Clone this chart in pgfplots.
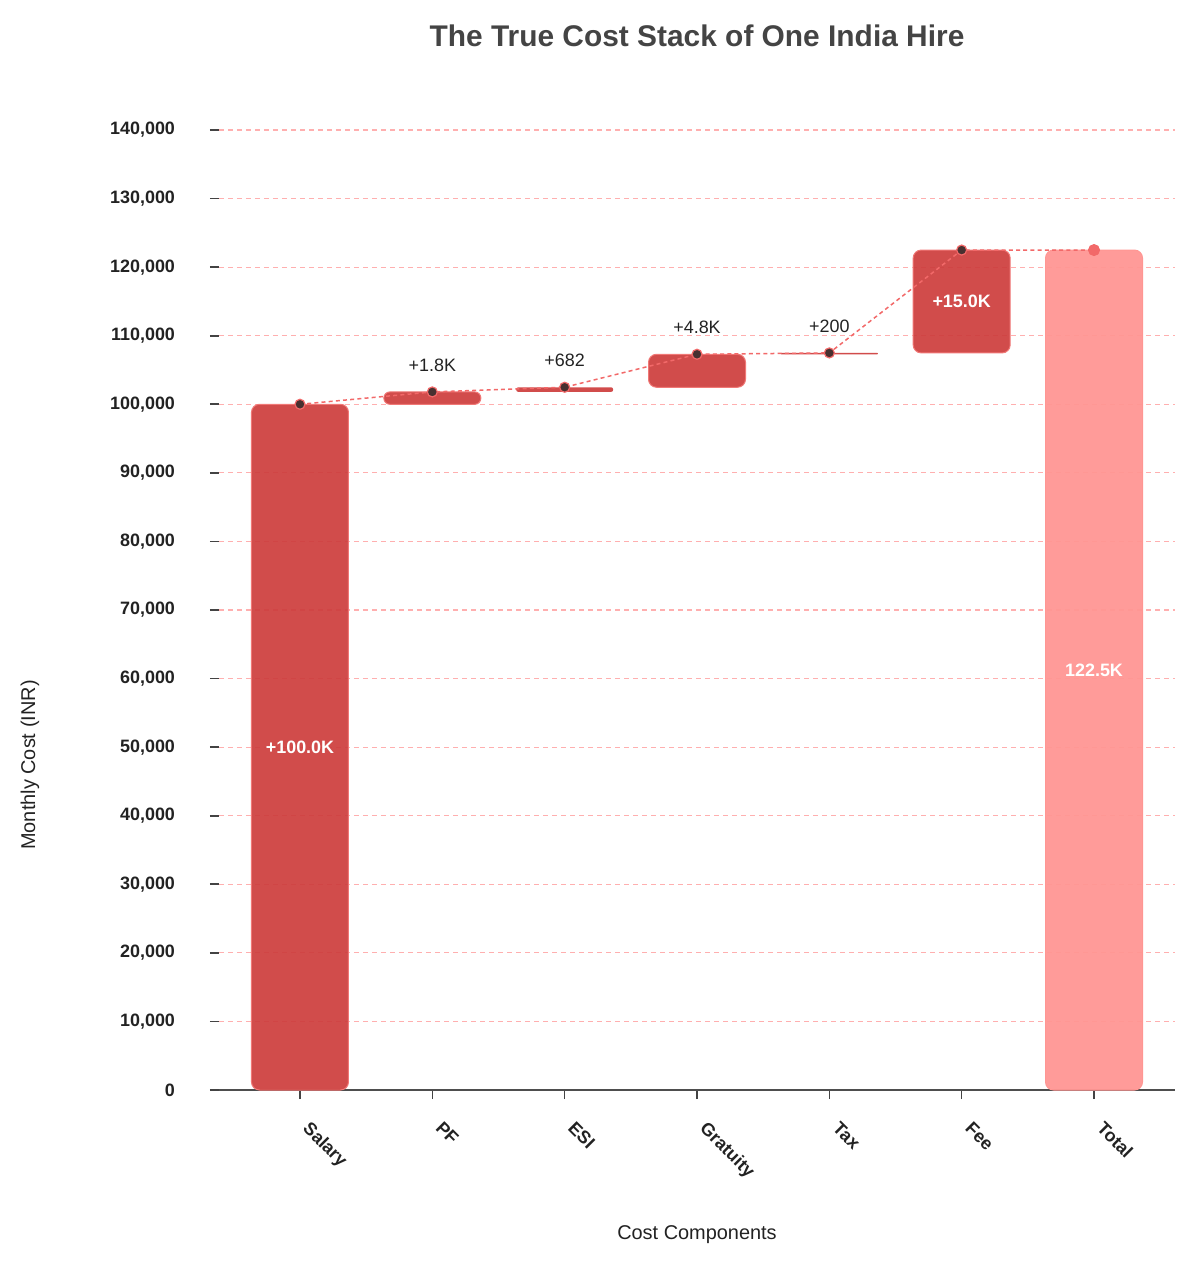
\documentclass[border=0pt]{standalone}
\usepackage{pgfplots}
\pgfplotsset{compat=1.18}
\usepackage{fontspec}
\setmainfont{Liberation Sans}

\definecolor{barred}{RGB}{205,62,61}
\definecolor{baredge}{RGB}{240,120,118}
\definecolor{totalred}{RGB}{255,150,147}
\definecolor{gridred}{RGB}{255,175,175}
\definecolor{linered}{RGB}{242,105,105}
\definecolor{dotdark}{RGB}{72,48,48}
\definecolor{txt}{RGB}{34,34,34}
\definecolor{titlegray}{RGB}{68,68,68}

\pgfplotsset{
  stepbar/.style={fill=barred, fill opacity=0.93, draw=baredge, line width=0.5bp},
}

\begin{document}
\begin{tikzpicture}
\useasboundingbox (-109.5bp,-88.5bp) rectangle (490.5bp,545bp);
\begin{axis}[
    scale only axis,
    width=478bp, height=504bp,
    xmin=-0.612, xmax=6.612,
    ymin=0, ymax=147000,
    separate axis lines,
    axis x line*=bottom,
    axis y line*=left,
    x axis line style={draw=txt!80, line width=1bp},
    y axis line style={draw=none},
    xtick={0,1,2,3,4,5,6},
    xticklabels={Salary,PF,ESI,Gratuity,Tax,Fee,Total},
    ytick={0,10000,20000,30000,40000,50000,60000,70000,80000,90000,100000,110000,120000,130000,140000},
    yticklabels={0,{10,000},{20,000},{30,000},{40,000},{50,000},{60,000},{70,000},{80,000},{90,000},{100,000},{110,000},{120,000},{130,000},{140,000}},
    scaled y ticks=false,
    tick align=outside,
    major tick length=4.5bp,
    tick style={draw=txt!85, line width=0.8bp},
    yticklabel style={font=\bfseries\fontsize{9}{10}\selectfont, text=txt, xshift=-14bp},
    xticklabel shift=10.5bp,
    xticklabel style={font=\bfseries\fontsize{9}{10}\selectfont, text=txt,
        rotate=-45, anchor=north west, inner sep=0pt, xshift=4bp, yshift=4bp},
    ymajorgrids,
    grid style={gridred, dash pattern=on 2.5bp off 2bp, line width=0.6bp},
    xlabel={Cost Components},
    xlabel style={font=\fontsize{10}{12}\selectfont, text=txt,
        at={(axis description cs:0.5,-0.1439)}, anchor=center},
    ylabel={Monthly Cost (INR)},
    ylabel style={font=\fontsize{10}{12}\selectfont, text=txt,
        at={(axis description cs:-0.1977,0.3224)}, anchor=center},
    title={The True Cost Stack of One India Hire},
    title style={font=\bfseries\fontsize{15}{17}\selectfont, text=titlegray,
        at={(axis description cs:0.5,1.0456)}, anchor=center, yshift=-6pt},
    clip=false,
]

% waterfall steps: each bar runs from the running total before to after
% Salary 0 -> 100000
\addplot[stepbar, rounded corners=4bp] coordinates
  {(-0.3665,0) (0.3665,0) (0.3665,100000) (-0.3665,100000)} -- cycle;
% PF +1800
\addplot[stepbar, rounded corners=3bp] coordinates
  {(0.6335,100000) (1.3665,100000) (1.3665,101800) (0.6335,101800)} -- cycle;
% ESI +682
\addplot[stepbar, draw=none, rounded corners=1.1bp] coordinates
  {(1.6335,101800) (2.3665,101800) (2.3665,102482) (1.6335,102482)} -- cycle;
% Gratuity +4808
\addplot[stepbar, rounded corners=4bp] coordinates
  {(2.6335,102482) (3.3665,102482) (3.3665,107290) (2.6335,107290)} -- cycle;
% Tax +200
\addplot[stepbar, draw=none, rounded corners=0.3bp] coordinates
  {(3.6335,107290) (4.3665,107290) (4.3665,107490) (3.6335,107490)} -- cycle;
% Fee +15000
\addplot[stepbar, rounded corners=4bp] coordinates
  {(4.6335,107490) (5.3665,107490) (5.3665,122490) (4.6335,122490)} -- cycle;
% Total 122490
\addplot[fill=totalred, fill opacity=0.95, draw=totalred, line width=0.5bp, rounded corners=4bp] coordinates
  {(5.6335,0) (6.3665,0) (6.3665,122490) (5.6335,122490)} -- cycle;

% connector through running totals
\addplot[linered, line width=0.75bp, dash pattern=on 2bp off 1.6bp, mark=none] coordinates
  {(0,100000) (1,101800) (2,102482) (3,107290) (4,107490) (5,122490) (6,122490)};
\addplot[only marks, mark=*, mark size=2.5bp, mark options={fill=dotdark, draw=linered, line width=0.6bp}] coordinates
  {(0,100000) (1,101800) (2,102482) (3,107290) (4,107490) (5,122490)};
\addplot[only marks, mark=*, mark size=2.8bp, mark options={fill=linered, draw=linered}] coordinates
  {(6,122490)};

% value labels
\begin{scope}[every node/.style={font=\fontsize{9}{10}\selectfont, text=txt, anchor=center}]
  \node[yshift=13.5bp] at (axis cs:1,101800) {+1.8K};
  \node[yshift=13.5bp] at (axis cs:2,102482) {+682};
  \node[yshift=13.5bp] at (axis cs:3,107290) {+4.8K};
  \node[yshift=13.5bp] at (axis cs:4,107490) {+200};
\end{scope}
\begin{scope}[every node/.style={font=\bfseries\fontsize{9}{10}\selectfont, text=white, anchor=center}]
  \node at (axis cs:0,50000) {+100.0K};
  \node at (axis cs:5,114990) {+15.0K};
  \node at (axis cs:6,61245) {122.5K};
\end{scope}
\end{axis}
\end{tikzpicture}
\end{document}
